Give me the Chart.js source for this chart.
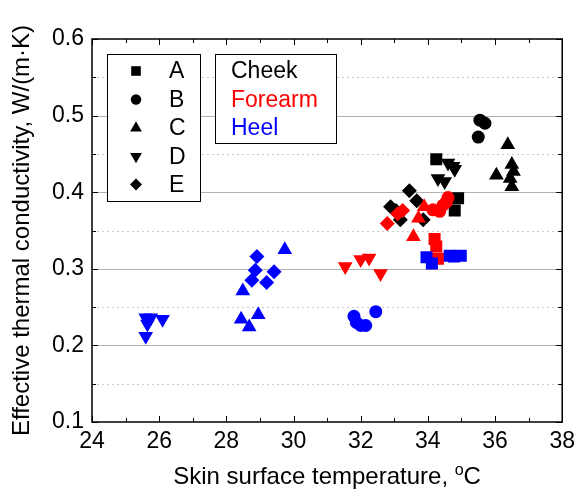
<!DOCTYPE html>
<html>
<head>
<meta charset="utf-8">
<script src="https://cdn.jsdelivr.net/npm/chart.js@4"></script>
<style>
  html, body { margin: 0; padding: 0; background: #fff; }
</style>
</head>
<body>
<canvas id="chart" width="581" height="497"></canvas>
<script>
// A = square, B = circle, C = triangle up, D = triangle down, E = diamond
const cheekA = [[34.25, 0.443], [34.9, 0.392], [34.8, 0.376]];
const cheekB = [[35.55, 0.494], [35.7, 0.49], [35.5, 0.472]];
const cheekC = [[36.38, 0.462], [36.04, 0.422], [36.5, 0.436], [36.55, 0.427], [36.45, 0.418], [36.5, 0.407]];
const cheekD = [[34.6, 0.438], [34.75, 0.434], [34.8, 0.43], [34.3, 0.418], [34.5, 0.414]];
const cheekE = [[33.45, 0.402], [33.67, 0.389], [32.89, 0.381], [33.05, 0.376], [33.18, 0.364], [33.86, 0.364]];

const forearmA = [[34.2, 0.339], [34.25, 0.329], [34.3, 0.313]];
const forearmB = [[34.15, 0.377], [34.35, 0.375], [34.45, 0.383], [34.55, 0.387], [34.6, 0.393]];
const forearmC = [[33.89, 0.381], [33.72, 0.366], [33.57, 0.342]];
const forearmD = [[31.54, 0.303], [32.0, 0.312], [32.25, 0.314], [32.59, 0.294]];
const forearmE = [[33.25, 0.376], [33.1, 0.372], [32.79, 0.359]];

const heelA = [[33.96, 0.315], [34.12, 0.307], [34.65, 0.317], [34.78, 0.316], [34.98, 0.317]];
const heelB = [[31.8, 0.238], [31.87, 0.23], [32.0, 0.226], [32.15, 0.226], [32.45, 0.244]];
const heelC = [[29.74, 0.325], [28.49, 0.271], [28.44, 0.234], [28.95, 0.24], [28.68, 0.224]];
const heelD = [[25.6, 0.236], [25.75, 0.236], [26.1, 0.234], [25.65, 0.228], [25.6, 0.212]];
const heelE = [[28.91, 0.316], [28.86, 0.298], [28.76, 0.285], [29.42, 0.296], [29.2, 0.282]];

const xTicks = [24, 26, 28, 30, 32, 34, 36, 38];
const yTicks = [0.1, 0.2, 0.3, 0.4, 0.5, 0.6];
const letters = ["A", "B", "C", "D", "E"];
const sites = ["Cheek", "Forearm", "Heel"];
const siteColors = ["#000000", "#ff0000", "#0000ff"];

const FONT = "Arial, 'Liberation Sans', sans-serif";

const SHAPES = {
  A: { pointStyle: "rect", rotation: 0, radius: 8.5 },
  B: { pointStyle: "circle", rotation: 0, radius: 6.5 },
  C: { pointStyle: "triangle", rotation: 0, radius: 8.5 },
  D: { pointStyle: "triangle", rotation: 180, radius: 8.5 },
  E: { pointStyle: "rectRot", rotation: 0, radius: 7.5 }
};

function makeSet(site, letter, pts, color) {
  const s = SHAPES[letter];
  return {
    label: site + " " + letter,
    data: pts.map(p => ({ x: p[0], y: p[1] })),
    backgroundColor: color,
    borderColor: color,
    borderWidth: 0,
    pointStyle: s.pointStyle,
    rotation: s.rotation,
    pointRadius: s.radius,
    pointHoverRadius: s.radius
  };
}

const groups = [
  ["Heel", [heelA, heelB, heelC, heelD, heelE], siteColors[2]],
  ["Forearm", [forearmA, forearmB, forearmC, forearmD, forearmE], siteColors[1]],
  ["Cheek", [cheekA, cheekB, cheekC, cheekD, cheekE], siteColors[0]]
];
const datasets = [];
groups.forEach(([site, sets, color]) => {
  sets.forEach((pts, i) => datasets.push(makeSet(site, letters[i], pts, color)));
});

const framePlugin = {
  id: "framePlugin",
  beforeDatasetsDraw(chart) {
    const { ctx, chartArea: a, scales: { y } } = chart;
    ctx.save();
    ctx.lineWidth = 1;
    for (let k = 3; k <= 11; k++) {
      const py = Math.round(y.getPixelForValue(k * 0.05)) + 0.5;
      ctx.beginPath();
      if (k % 2 === 0) {
        ctx.strokeStyle = "#b0b0b0";
        ctx.setLineDash([]);
      } else {
        ctx.strokeStyle = "#c8c8c8";
        ctx.setLineDash([2, 3]);
      }
      ctx.moveTo(a.left, py);
      ctx.lineTo(a.right, py);
      ctx.stroke();
    }
    ctx.restore();
  },
  afterDatasetsDraw(chart) {
    const { ctx, chartArea: a, scales: { x, y } } = chart;
    ctx.save();
    ctx.strokeStyle = "#000";
    ctx.lineWidth = 1.5;
    ctx.setLineDash([]);
    ctx.strokeRect(a.left, a.top, a.right - a.left, a.bottom - a.top);

    // inward ticks on all four sides
    ctx.lineWidth = 1;
    for (let v = 24; v <= 38; v++) {
      const px = Math.round(x.getPixelForValue(v)) + 0.5;
      const len = v % 2 === 0 ? 6 : 4;
      ctx.beginPath();
      ctx.moveTo(px, a.bottom); ctx.lineTo(px, a.bottom - len);
      ctx.moveTo(px, a.top); ctx.lineTo(px, a.top + len);
      ctx.stroke();
    }
    for (let k = 2; k <= 12; k++) {
      const py = Math.round(y.getPixelForValue(k * 0.05)) + 0.5;
      const len = k % 2 === 0 ? 6 : 4;
      ctx.beginPath();
      ctx.moveTo(a.left, py); ctx.lineTo(a.left + len, py);
      ctx.moveTo(a.right, py); ctx.lineTo(a.right - len, py);
      ctx.stroke();
    }

    // legend 1: symbols
    ctx.fillStyle = "#fff";
    ctx.fillRect(107, 54, 93, 147);
    ctx.strokeStyle = "#000";
    ctx.lineWidth = 1;
    ctx.strokeRect(107.5, 54.5, 93, 147);
    const rowsY = [71, 99.5, 128, 156.5, 184.5];
    ctx.font = "23px " + FONT;
    ctx.textBaseline = "middle";
    ctx.textAlign = "left";
    letters.forEach((l, i) => {
      const s = SHAPES[l];
      ctx.fillStyle = "#000";
      Chart.helpers.drawPoint(ctx, {
        pointStyle: s.pointStyle,
        rotation: s.rotation,
        radius: s.radius * 0.8,
        borderWidth: 0
      }, 136, rowsY[i]);
      ctx.fillStyle = "#000";
      ctx.fillText(l, 169, rowsY[i] + 1);
    });

    // legend 2: body sites
    ctx.fillStyle = "#fff";
    ctx.fillRect(215, 54, 121, 89);
    ctx.strokeRect(215.5, 54.5, 121, 89);
    const siteY = [70.5, 99.5, 127.5];
    sites.forEach((s, i) => {
      ctx.fillStyle = siteColors[i];
      ctx.fillText(s, 231, siteY[i] + 1);
    });

    // x axis title with superscript o
    const cx = (a.left + a.right) / 2;
    const base = 484;
    ctx.fillStyle = "#000";
    ctx.textBaseline = "alphabetic";
    ctx.font = "24px " + FONT;
    const main = "Skin surface temperature, ";
    const wMain = ctx.measureText(main).width;
    ctx.font = "16px " + FONT;
    const wSup = ctx.measureText("o").width;
    ctx.font = "24px " + FONT;
    const wC = ctx.measureText("C").width;
    let sx = cx - (wMain + wSup + wC) / 2;
    ctx.textAlign = "left";
    ctx.fillText(main, sx, base);
    sx += wMain;
    ctx.font = "16px " + FONT;
    ctx.fillText("o", sx, base - 9);
    sx += wSup;
    ctx.font = "24px " + FONT;
    ctx.fillText("C", sx, base);
    ctx.restore();
  }
};

new Chart(document.getElementById("chart"), {
  type: "scatter",
  data: { datasets },
  options: {
    responsive: false,
    animation: false,
    events: [],
    layout: { padding: { left: 0, right: 12, top: 39, bottom: 0 } },
    plugins: {
      legend: { display: false },
      tooltip: { enabled: false }
    },
    scales: {
      x: {
        type: "linear",
        min: 24,
        max: 38,
        afterBuildTicks: scale => { scale.ticks = xTicks.map(v => ({ value: v })); },
        afterFit: scale => { scale.height = 75; },
        grid: { display: false, drawTicks: false },
        border: { display: false },
        ticks: {
          color: "#000",
          font: { size: 23, family: FONT },
          padding: 6,
          maxRotation: 0,
          autoSkip: false,
          callback: v => String(v)
        }
      },
      y: {
        type: "linear",
        min: 0.1,
        max: 0.6,
        afterBuildTicks: scale => { scale.ticks = yTicks.map(v => ({ value: v })); },
        afterFit: scale => { scale.width = 92; },
        grid: { display: false, drawTicks: false },
        border: { display: false },
        ticks: {
          color: "#000",
          font: { size: 23, family: FONT },
          padding: 8,
          autoSkip: false,
          callback: v => Number(v).toFixed(1)
        },
        title: {
          display: true,
          text: "Effective thermal conductivity, W/(m\u00b7K)",
          color: "#000",
          font: { size: 24, family: FONT },
          padding: { top: 8, bottom: 0 }
        }
      }
    }
  },
  plugins: [framePlugin]
});
</script>
</body>
</html>
